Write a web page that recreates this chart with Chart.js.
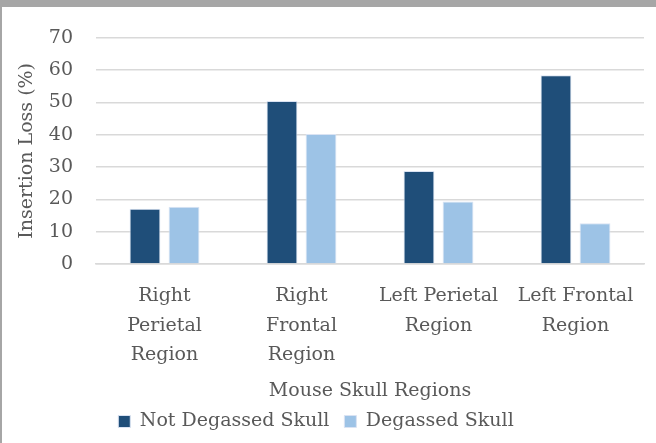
<!DOCTYPE html>
<html>
<head>
<meta charset="utf-8">
<script src="https://cdn.jsdelivr.net/npm/chart.js@4"></script>
<style>
  html, body { margin: 0; padding: 0; background: #fff; }
  #frame {
    width: 654px; height: 436px;
    border-top: 7px solid #a6a6a6;
    border-left: 2px solid #a6a6a6;
  }
</style>
</head>
<body>
<div id="frame"><canvas id="chart" width="654" height="436"></canvas></div>
<script>
const regions = [
  ['Right', 'Perietal', 'Region'],
  ['Right', 'Frontal', 'Region'],
  ['Left Perietal', 'Region'],
  ['Left Frontal', 'Region'],
];
const notDegassed = [17.1, 50.4, 28.8, 58.4];
const degassed = [17.7, 40.2, 19.3, 12.6];
const yTicks = [0, 10, 20, 30, 40, 50, 60, 70];

const textColor = '#595959';
const family = '"DejaVu Serif", serif';
const font = { family: family, size: 19 };

// Excel doesn't centre the legend on the canvas, nudge it left
const legendShift = {
  id: 'legendShift',
  afterLayout(chart) {
    const dx = -13;
    chart.legend.left += dx;
    chart.legend.right += dx;
  }
};

new Chart(document.getElementById('chart'), {
  type: 'bar',
  data: {
    labels: regions,
    datasets: [{
      label: 'Not Degassed Skull',
      data: notDegassed,
      backgroundColor: '#1f4e79',
      borderColor: '#dae3f3',
      borderWidth: 1,
    }, {
      label: 'Degassed Skull',
      data: degassed,
      backgroundColor: '#9dc3e6',
      borderColor: '#dae3f3',
      borderWidth: 1,
    }]
  },
  options: {
    responsive: false,
    animation: false,
    categoryPercentage: 0.57,
    barPercentage: 0.79,
    layout: { padding: { left: 12, right: 12, top: 10, bottom: 2 } },
    plugins: {
      tooltip: { enabled: false },
      legend: {
        position: 'bottom',
        labels: {
          color: textColor,
          font: font,
          boxWidth: 12,
          boxHeight: 12,
          padding: 15,
        }
      }
    },
    scales: {
      x: {
        grid: { display: false, drawTicks: false },
        border: { display: true, color: '#d9d9d9', width: 1.5 },
        ticks: {
          color: textColor,
          font: { family: family, size: 19, lineHeight: 1.53 },
          padding: 18,
          maxRotation: 0,
          autoSkip: false
        },
        title: {
          display: true,
          text: 'Mouse Skull Regions',
          color: textColor,
          font: font,
          padding: { top: -8, bottom: -5 }
        }
      },
      y: {
        min: 0,
        max: 70,
        afterBuildTicks: axis => { axis.ticks = yTicks.map(v => ({ value: v })); },
        afterFit: axis => {
          axis.width = 82;
          // tick padding would otherwise push the plot top down too
          axis.paddingTop = 30.7;
        },
        grid: { color: '#d9d9d9', lineWidth: 1.5, drawTicks: false },
        border: { display: false },
        ticks: { color: textColor, font: font, padding: 23 },
        title: {
          display: true,
          text: 'Insertion Loss (%)',
          color: textColor,
          font: font,
          padding: { top: 2, bottom: 0 }
        }
      }
    }
  },
  plugins: [legendShift]
});
</script>
</body>
</html>
